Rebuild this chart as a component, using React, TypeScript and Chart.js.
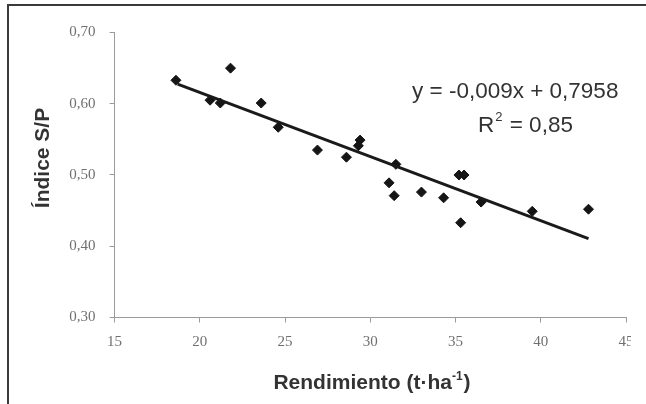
import React, { useEffect, useRef } from "react";
import { Chart, registerables } from "chart.js";

Chart.register(...registerables);

// ---- data ----
const xValues = [18.6, 20.6, 21.2, 21.8, 23.6, 24.6, 26.9, 28.6, 29.4, 29.3, 31.5, 31.1, 31.4, 33.0, 34.3, 35.2, 35.5, 35.3, 36.5, 39.5, 42.8];
const yValues = [0.633, 0.605, 0.601, 0.650, 0.601, 0.567, 0.535, 0.525, 0.549, 0.541, 0.515, 0.489, 0.471, 0.476, 0.468, 0.500, 0.500, 0.433, 0.462, 0.449, 0.452];

const trendSlope = -0.009;
const trendIntercept = 0.7958;
const trendXRange = [18.7, 42.8];

const xTicks = [15, 20, 25, 30, 35, 40, 45];
const yTicks = [0.3, 0.4, 0.5, 0.6, 0.7];

const equationText = "y = -0,009x + 0,7958";
const r2Label = "R";
const r2Sup = "2";
const r2Value = " = 0,85";
const xTitleMain = "Rendimiento (t·ha";
const xTitleSup = "-1";
const xTitleEnd = ")";
const yTitle = "Índice S/P";

const SANS = '"Liberation Sans", Arial, Helvetica, sans-serif';
const SERIF = '"Liberation Serif", "Times New Roman", Times, serif';

const textPlugin = {
  id: "customTexts",
  afterDraw(chart: any) {
    const ctx: CanvasRenderingContext2D = chart.ctx;
    ctx.save();
    ctx.fillStyle = "#333333";
    ctx.textBaseline = "alphabetic";
    ctx.textAlign = "left";

    // equation
    ctx.font = `22.5px ${SANS}`;
    ctx.fillText(equationText, 412, 98);

    // R^2
    ctx.font = `22.5px ${SANS}`;
    ctx.fillText(r2Label, 478, 132);
    const rW = ctx.measureText(r2Label).width;
    ctx.font = `13px ${SANS}`;
    ctx.fillText(r2Sup, 478 + rW + 1, 121);
    const sW = ctx.measureText(r2Sup).width;
    ctx.font = `22.5px ${SANS}`;
    ctx.fillText(r2Value, 478 + rW + sW + 2, 132);

    // x title
    ctx.font = `bold 21px ${SANS}`;
    const w1 = ctx.measureText(xTitleMain).width;
    const w3 = ctx.measureText(xTitleEnd).width;
    ctx.font = `bold 12px ${SANS}`;
    const w2 = ctx.measureText(xTitleSup).width;
    const total = w1 + w2 + w3 + 1;
    let x0 = 372 - total / 2;
    ctx.font = `bold 21px ${SANS}`;
    ctx.fillText(xTitleMain, x0, 389);
    ctx.font = `bold 12px ${SANS}`;
    ctx.fillText(xTitleSup, x0 + w1, 380);
    ctx.font = `bold 21px ${SANS}`;
    ctx.fillText(xTitleEnd, x0 + w1 + w2 + 1, 389);

    // y title
    ctx.translate(49, 158);
    ctx.rotate(-Math.PI / 2);
    ctx.textAlign = "center";
    ctx.font = `bold 21px ${SANS}`;
    ctx.fillText(yTitle, 0, 0);

    ctx.restore();
  },
};

export default function App() {
  const canvasRef = useRef<HTMLCanvasElement | null>(null);

  useEffect(() => {
    if (!canvasRef.current) return;
    const points = xValues.map((x, i) => ({ x, y: yValues[i] }));
    const trend = trendXRange.map((x) => ({ x, y: trendSlope * x + trendIntercept }));

    const chart = new Chart(canvasRef.current, {
      type: "scatter",
      data: {
        datasets: [
          {
            type: "line",
            data: trend,
            borderColor: "#1a1a1a",
            borderWidth: 3,
            pointRadius: 0,
            fill: false,
          } as any,
          {
            data: points,
            pointStyle: "rectRot",
            pointRadius: 5,
            pointBackgroundColor: "#151515",
            pointBorderColor: "#151515",
            pointBorderWidth: 1,
          },
        ],
      },
      options: {
        animation: false,
        responsive: false,
        devicePixelRatio: 1,
        layout: { padding: { top: 32.5, right: 34, bottom: 0, left: 0 } },
        plugins: {
          legend: { display: false },
          tooltip: { enabled: false },
          title: { display: false },
        },
        scales: {
          x: {
            type: "linear",
            min: 15,
            max: 45,
            afterBuildTicks: (scale: any) => {
              scale.ticks = xTicks.map((v) => ({ value: v }));
            },
            afterFit: (scale: any) => {
              scale.height = 86.5;
            },
            grid: { drawOnChartArea: false, drawTicks: true, tickLength: 5, color: "#9a9a9a" },
            border: { display: true, color: "#9a9a9a", width: 1 },
            ticks: {
              color: "#707070",
              padding: 11,
              font: { family: SERIF, size: 15 },
              callback: (v: any) => String(v),
            },
          },
          y: {
            type: "linear",
            min: 0.3,
            max: 0.7,
            afterBuildTicks: (scale: any) => {
              scale.ticks = yTicks.map((v) => ({ value: v }));
            },
            afterFit: (scale: any) => {
              scale.width = 114.6;
            },
            grid: { drawOnChartArea: false, drawTicks: true, tickLength: 5, color: "#9a9a9a" },
            border: { display: true, color: "#9a9a9a", width: 1 },
            ticks: {
              color: "#707070",
              padding: 14,
              font: { family: SERIF, size: 15 },
              callback: (v: any) => Number(v).toFixed(2).replace(".", ","),
            },
          },
        },
      },
      plugins: [textPlugin],
    });
    return () => chart.destroy();
  }, []);

  return (
    <div
      style={{
        position: "absolute",
        left: 0,
        top: 0,
        width: 646,
        height: 404,
        overflow: "hidden",
        background: "#ffffff",
      }}
    >
      <div
        style={{
          position: "absolute",
          left: 0,
          top: 0,
          width: 631,
          height: 404,
          overflow: "hidden",
        }}
      >
        <canvas ref={canvasRef} width={660} height={404} style={{ display: "block" }} />
      </div>
      <div
        style={{
          position: "absolute",
          left: 7,
          top: 4,
          width: 700,
          height: 500,
          borderTop: "2px solid #3a3a3a",
          borderLeft: "2px solid #3a3a3a",
          pointerEvents: "none",
        }}
      />
    </div>
  );
}
